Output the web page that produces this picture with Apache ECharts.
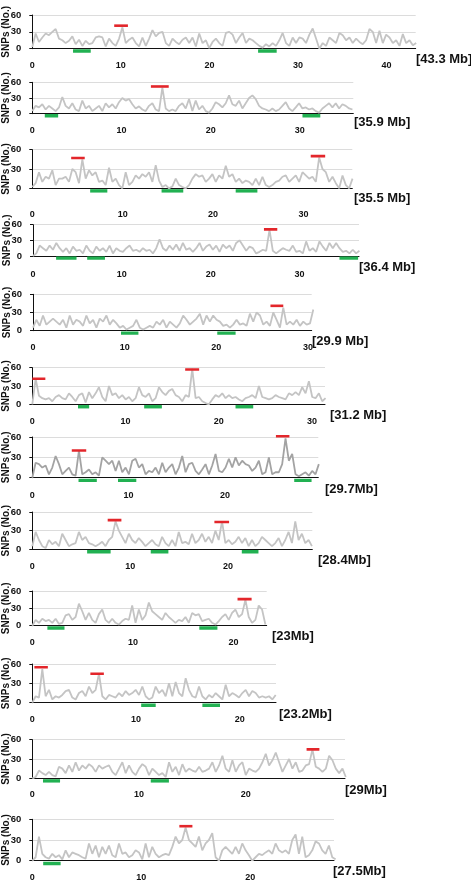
<!DOCTYPE html>
<html><head><meta charset="utf-8">
<script src="https://cdn.jsdelivr.net/npm/echarts@6/dist/echarts.min.js"></script>
<style>html,body{margin:0;padding:0;background:#fff}#c{width:471px;height:881px}</style>
</head><body><div id="c"></div>
<script>
// ---------------- DATA ----------------
const chromLabels = ["[43.3 Mb]","[35.9 Mb]","[35.5 Mb]","[36.4 Mb]","[29.9 Mb]","[31.2 Mb]","[29.7Mb]","[28.4Mb]","[23Mb]","[23.2Mb]","[29Mb]","[27.5Mb]"];
const axisEndMb = [43.3, 36.0, 35.4, 36.7, 30.4, 31.4, 29.7, 28.6, 23.3, 23.5, 29.3, 27.7];
const binMb = [0.377, 0.374, 0.369, 0.375, 0.364, 0.3575, 0.346, 0.340, 0.331, 0.3215, 0.3125, 0.306];
const yTicks = [0, 30, 60];

const snps1 = [3,27,12,20,27,24,30,35,18,15, 10,14,22,8,16,5,14,8,10,20, 22,20,4,18,10,5,18,38,10,16, 20,10,4,20,5,18,33,22,28,30, 10,5,18,12,8,16,20,10,20,4, 27,10,15,1,12,18,10,5,28,30, 25,10,20,28,10,18,15,10,5,2, 8,4,10,5,15,28,10,5,20,10, 20,18,10,25,36,18,0,10,5,20, 15,10,28,24,15,20,10,18,12,8, 15,35,30,10,32,10,25,20,10,15, 5,26,10,15,6,10];
const snps2 = [5,15,12,18,8,15,10,5,12,32, 15,10,20,8,5,25,10,15,5,10, 15,5,20,12,18,10,22,30,25,28, 18,10,14,8,5,15,20,8,5,50, 10,5,8,5,15,20,10,28,5,25, 8,15,5,2,10,22,18,12,20,35, 18,15,25,10,20,30,35,28,15,10, 8,5,10,5,8,15,22,10,5,12, 20,10,12,8,10,5,2,10,15,20, 12,20,10,18,15,10,8];
const snps3 = [2,8,25,10,18,15,28,5,15,15, 18,10,30,25,8,45,15,28,20,25, 10,12,5,32,10,15,5,0,25,5, 10,20,15,22,18,25,10,36,12,2, 5,0,3,15,5,2,0,5,15,22, 18,20,10,15,22,10,20,15,35,18, 22,10,15,8,12,10,5,15,5,18, 5,2,5,10,12,18,20,10,15,20, 10,25,20,15,18,10,48,30,25,10, 18,8,0,20,5,0,15];
const snps4 = [0,5,20,15,10,20,12,25,15,8, 15,5,18,10,12,5,20,10,5,18, 10,15,8,20,5,15,10,8,15,20, 10,12,8,15,10,12,5,15,32,15, 10,20,12,22,10,25,12,15,8,15, 25,10,18,22,12,20,8,22,15,20, 10,25,30,20,10,18,15,5,8,12, 10,50,10,5,10,15,12,10,20,8, 10,5,28,10,15,8,28,18,10,25, 15,25,15,8,10,5,12,5,10];
const snps5 = [5,18,8,25,10,15,20,15,10,18, 5,25,10,18,15,8,25,12,18,5, 20,15,25,10,18,12,5,8,2,5, 8,18,5,2,5,8,5,15,10,18, 5,15,10,5,12,25,18,10,15,20, 28,10,25,15,25,18,15,8,10,5, 10,18,10,12,8,28,15,30,25,10, 15,8,30,18,5,38,10,15,10,18, 8,15,10,12,35];
const snps6 = [0,42,14,10,8,10,5,12,15,10, 8,18,12,5,15,18,3,20,10,18, 28,12,5,30,15,18,10,15,8,12, 5,10,28,15,12,18,5,10,28,20, 15,22,25,15,12,5,15,12,58,10, 12,5,2,0,8,15,12,18,10,15, 10,12,8,5,10,12,15,10,30,12, 10,8,10,15,12,10,8,18,15,20, 15,28,18,38,12,10,18,5,10];
const snps7 = [0,22,20,15,18,5,15,32,20,5, 10,15,5,3,40,5,8,12,5,8, 3,30,25,20,25,10,25,8,15,5, 25,28,15,20,5,10,8,15,5,22, 8,15,20,5,15,32,8,20,22,10, 5,12,20,5,18,35,10,8,15,28, 15,30,18,25,20,18,10,15,25,5, 8,30,5,8,8,20,58,25,35,5, 2,5,8,3,10,5,20];
const snps8 = [5,28,15,5,2,15,8,12,5,25, 15,5,8,10,28,15,20,10,8,5, 8,12,5,15,20,45,30,20,10,25, 15,10,18,12,5,10,15,8,5,20, 10,5,15,5,28,10,12,8,25,10, 15,25,12,20,10,30,15,45,10,15, 8,12,20,10,18,5,15,5,10,20, 15,10,5,10,18,5,15,28,10,45, 15,25,10,15,5];
const snps9 = [0,10,5,12,8,10,5,12,3,5, 18,20,10,15,38,25,10,22,10,5, 20,28,10,5,12,5,2,8,12,10, 35,5,28,10,18,40,25,20,15,10, 22,15,10,5,10,8,15,5,22,18, 20,8,10,12,5,2,8,15,20,10, 22,28,15,20,45,15,5,10,35,28, 2];
const snps10 = [0,10,8,52,10,20,5,10,8,12, 18,20,8,5,15,18,10,25,15,20, 45,10,5,12,10,8,15,10,18,12, 15,20,12,25,10,5,8,25,15,20, 10,30,10,32,15,10,38,20,10,8, 25,10,5,12,8,15,10,5,28,10, 15,12,8,15,20,10,18,15,8,10, 8,10,5,12];
const snps11 = [0,2,12,8,5,10,5,3,18,15, 8,20,10,25,12,20,15,22,18,10, 20,15,18,20,10,5,15,25,8,20, 10,5,15,22,18,5,15,10,5,8, 2,25,10,18,5,22,10,15,12,10, 18,10,12,15,25,10,20,35,15,10, 28,10,20,25,5,15,12,10,15,25, 38,20,28,40,25,10,20,30,15,25, 10,12,20,22,45,18,15,10,15,35, 28,15,8,15,2];
const snps12 = [0,5,35,10,5,3,10,5,8,2, 15,5,12,10,8,5,3,25,10,22, 5,20,10,22,8,5,25,10,12,5, 8,15,12,2,25,5,20,10,5,8, 10,8,20,35,25,30,48,30,25,20, 35,15,25,30,40,5,0,15,20,15, 10,20,10,25,15,8,0,5,10,8, 12,15,10,25,15,12,15,10,30,38, 10,35,5,8,15,28,25,15,10,22, 5,2];
const snpSeries = [snps1,snps2,snps3,snps4,snps5,snps6,snps7,snps8,snps9,snps10,snps11,snps12];

// red marks: [startMb, endMb, level]
const redMarks = [
  [[9.25,10.8,41]],
  [[13.3,15.3,52]],
  [[4.3,5.8,47],[30.8,32.4,50]],
  [[26.0,27.5,51]],
  [[25.9,27.3,41]],
  [[0,1.4,42],[16.4,17.9,57]],
  [[4.1,5.6,40],[25.3,26.7,61]],
  [[7.7,9.1,47],[18.6,20.1,44]],
  [[20.4,21.8,46]],
  [[0.2,1.5,55],[5.6,6.9,45]],
  [[25.7,26.9,45]],
  [[13.5,14.7,50]]
];
// green marks: [startMb, endMb]
const greenMarks = [
  [[4.6,6.6],[25.5,27.6]],
  [[1.4,2.9],[30.3,32.3]],
  [[6.4,8.3],[14.3,16.7],[22.5,24.9]],
  [[2.6,4.9],[6.1,8.1],[34.5,36.6]],
  [[9.6,11.5],[20.1,22.1]],
  [[4.9,6.1],[12.0,13.9],[21.8,23.7]],
  [[4.8,6.7],[8.9,10.8],[27.2,29.0]],
  [[5.6,8.0],[12.1,13.9],[21.4,23.1]],
  [[1.5,3.2],[16.6,18.4]],
  [[10.5,11.9],[16.4,18.1]],
  [[1.0,2.6],[11.1,12.8]],
  [[1.0,2.6]]
];

// ---------------- LAYOUT / STYLE ----------------
const panelTop    = [15, 82.3, 149.7, 224.7, 294.3, 367.7, 437, 512, 591, 664, 739.7, 819.3];
const panelHeight = [33.7, 31.4, 38.6, 31.3, 36.4, 36.6, 40.7, 37.3, 34.7, 38.7, 38.6, 41.4];
const panelLeft   = [32.3, 32.3, 32.3, 33, 33, 32.3, 32.3, 32.3, 32.3, 32.3, 32.3, 32.3];
const panelWidth  = [383.4, 321, 320, 326, 278.7, 292.7, 286, 280, 234.4, 243.7, 312.7, 301.7];
const xLabelMargin = [12, 12, 22, 14, 12, 13, 13, 13, 12, 12, 12, 12];
const labelX = [416, 354, 354, 359, 312, 330, 325, 318, 272, 279, 345, 333];
const labelY = [59, 122, 198, 267, 341, 415, 489, 560, 636, 714, 790, 871];
const lineColors = ['#c4c4c4','#c4c4c4','#c4c4c4','#c4c4c4','#c4c4c4','#c4c4c4','#a3a3a3','#c4c4c4','#c4c4c4','#c4c4c4','#c4c4c4','#c4c4c4'];
const GREEN_LEVEL = -4;
const FONT = '"Liberation Sans", Arial, Helvetica, sans-serif';

const chart = echarts.init(document.getElementById('c'), null, {renderer: 'canvas'});
const grids = [], xAxes = [], yAxes = [], series = [], graphics = [];

for (let i = 0; i < 12; i++) {
  grids.push({left: panelLeft[i], top: panelTop[i], width: panelWidth[i], height: panelHeight[i], containLabel: false, outerBoundsMode: 'none'});
  xAxes.push({
    type: 'value', gridIndex: i, min: 0, max: axisEndMb[i], interval: 10,
    axisLine: {show: true, lineStyle: {color: '#111', width: 1}},
    axisTick: {show: false},
    splitLine: {show: false},
    axisLabel: {show: true, showMaxLabel: false, margin: xLabelMargin[i], fontSize: 9, fontWeight: 'bold', fontFamily: FONT, color: '#111'}
  });
  yAxes.push({
    type: 'value', gridIndex: i, min: yTicks[0], max: yTicks[2], interval: yTicks[1] - yTicks[0],
    name: 'SNPs (No.)', nameLocation: 'middle', nameGap: 21, nameRotate: 90, nameMoveOverlap: false,
    nameTextStyle: {fontSize: 10, fontWeight: 'bold', fontFamily: FONT, color: '#111'},
    axisLine: {show: true, lineStyle: {color: '#111', width: 1}},
    axisTick: {show: true, length: 3, lineStyle: {color: '#111'}},
    splitLine: {show: true, lineStyle: {color: '#dcdcdc', width: 1}},
    axisLabel: {margin: 11, fontSize: 9.5, fontWeight: 'bold', fontFamily: FONT, color: '#111'}
  });
  const vals = snpSeries[i];
  series.push({
    type: 'line', xAxisIndex: i, yAxisIndex: i, showSymbol: false, symbol: 'none',
    lineStyle: {color: lineColors[i], width: 1.8}, z: 2, silent: true,
    data: vals.map((v, k) => [k * binMb[i], v])
  });
  redMarks[i].forEach(m => {
    series.push({
      type: 'line', xAxisIndex: i, yAxisIndex: i, symbol: 'none', showSymbol: false, clip: false,
      lineStyle: {color: '#e3262b', width: 2.6}, z: 4, silent: true,
      data: [[m[0], m[2]], [m[1], m[2]]]
    });
  });
  greenMarks[i].forEach(m => {
    series.push({
      type: 'line', xAxisIndex: i, yAxisIndex: i, symbol: 'none', showSymbol: false, clip: false,
      lineStyle: {color: '#22b152', width: 3.4}, z: 4, silent: true,
      data: [[m[0], GREEN_LEVEL], [m[1], GREEN_LEVEL]]
    });
  });
  graphics.push({
    type: 'text', x: labelX[i], y: labelY[i], silent: true,
    style: {text: chromLabels[i], fontSize: 13, fontWeight: 'bold', fontFamily: FONT, fill: '#111', align: 'left', verticalAlign: 'middle'}
  });
}

chart.setOption({
  animation: false,
  grid: grids, xAxis: xAxes, yAxis: yAxes, series: series, graphic: graphics
});
</script></body></html>
